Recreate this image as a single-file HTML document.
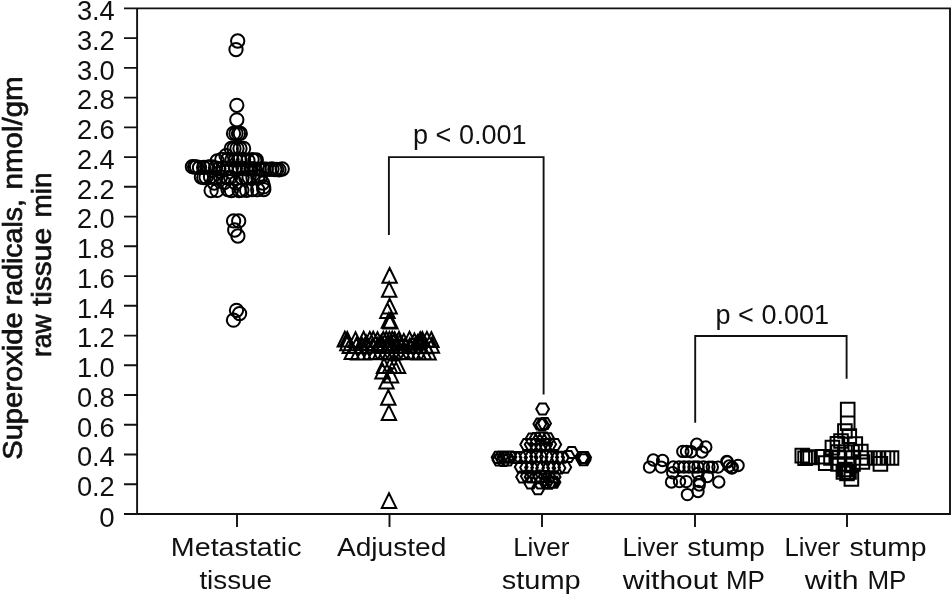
<!DOCTYPE html>
<html lang="en"><head><meta charset="utf-8"><title>Superoxide radicals</title>
<style>html,body{margin:0;padding:0;background:#fff}svg{display:block}text{font-family:"Liberation Sans",sans-serif;fill:#111}.m{fill:none;stroke:#000;stroke-width:1.8}.ax{fill:none;stroke:#111;stroke-width:1.9}</style></head><body>
<svg width="951" height="596" viewBox="0 0 951 596">
<rect width="951" height="596" fill="#fff"/>
<path class="ax" d="M124.0 8.4H950V514.0H124.0M137.1 8.4V514.0"/>
<path class="ax" d="M124.0 484.3H137.1M124.0 454.5H137.1M124.0 424.8H137.1M124.0 395.0H137.1M124.0 365.3H137.1M124.0 335.6H137.1M124.0 305.8H137.1M124.0 276.1H137.1M124.0 246.3H137.1M124.0 216.6H137.1M124.0 186.8H137.1M124.0 157.1H137.1M124.0 127.4H137.1M124.0 97.6H137.1M124.0 67.9H137.1M124.0 38.1H137.1"/>
<path class="ax" d="M237 514.0V526.9M389.5 514.0V526.9M542 514.0V526.9M695 514.0V526.9M847 514.0V526.9"/>
<text x="114.6" y="527.2" font-size="28" text-anchor="end" textLength="15.4" lengthAdjust="spacingAndGlyphs">0</text>
<text x="114.8" y="496.1" font-size="28" text-anchor="end" textLength="37.9" lengthAdjust="spacingAndGlyphs">0.2</text>
<text x="114.8" y="466.3" font-size="28" text-anchor="end" textLength="37.9" lengthAdjust="spacingAndGlyphs">0.4</text>
<text x="114.8" y="436.6" font-size="28" text-anchor="end" textLength="37.9" lengthAdjust="spacingAndGlyphs">0.6</text>
<text x="114.8" y="406.8" font-size="28" text-anchor="end" textLength="37.9" lengthAdjust="spacingAndGlyphs">0.8</text>
<text x="114.8" y="377.1" font-size="28" text-anchor="end" textLength="37.9" lengthAdjust="spacingAndGlyphs">1.0</text>
<text x="114.8" y="347.4" font-size="28" text-anchor="end" textLength="37.9" lengthAdjust="spacingAndGlyphs">1.2</text>
<text x="114.8" y="317.6" font-size="28" text-anchor="end" textLength="37.9" lengthAdjust="spacingAndGlyphs">1.4</text>
<text x="114.8" y="287.9" font-size="28" text-anchor="end" textLength="37.9" lengthAdjust="spacingAndGlyphs">1.6</text>
<text x="114.8" y="258.1" font-size="28" text-anchor="end" textLength="37.9" lengthAdjust="spacingAndGlyphs">1.8</text>
<text x="114.8" y="228.4" font-size="28" text-anchor="end" textLength="37.9" lengthAdjust="spacingAndGlyphs">2.0</text>
<text x="114.8" y="198.6" font-size="28" text-anchor="end" textLength="37.9" lengthAdjust="spacingAndGlyphs">2.2</text>
<text x="114.8" y="168.9" font-size="28" text-anchor="end" textLength="37.9" lengthAdjust="spacingAndGlyphs">2.4</text>
<text x="114.8" y="139.2" font-size="28" text-anchor="end" textLength="37.9" lengthAdjust="spacingAndGlyphs">2.6</text>
<text x="114.8" y="109.4" font-size="28" text-anchor="end" textLength="37.9" lengthAdjust="spacingAndGlyphs">2.8</text>
<text x="114.8" y="79.7" font-size="28" text-anchor="end" textLength="37.9" lengthAdjust="spacingAndGlyphs">3.0</text>
<text x="114.8" y="49.9" font-size="28" text-anchor="end" textLength="37.9" lengthAdjust="spacingAndGlyphs">3.2</text>
<text x="114.8" y="19.7" font-size="28" text-anchor="end" textLength="37.9" lengthAdjust="spacingAndGlyphs">3.4</text>
<text x="170.8" y="555.7" font-size="26" textLength="130.7" lengthAdjust="spacingAndGlyphs">Metastatic</text>
<text x="199.4" y="589" font-size="26" textLength="72.6" lengthAdjust="spacingAndGlyphs">tissue</text>
<text x="337.0" y="555.7" font-size="26" textLength="109.3" lengthAdjust="spacingAndGlyphs">Adjusted</text>
<text x="513.2" y="555.7" font-size="26" textLength="56.2" lengthAdjust="spacingAndGlyphs">Liver</text>
<text x="501.8" y="589" font-size="26" textLength="78.9" lengthAdjust="spacingAndGlyphs">stump</text>
<text x="622.5" y="555.7" font-size="26" textLength="55.8" lengthAdjust="spacingAndGlyphs">Liver</text>
<text x="687.2" y="555.7" font-size="26" textLength="77.7" lengthAdjust="spacingAndGlyphs">stump</text>
<text x="622.8" y="589" font-size="26" textLength="95.0" lengthAdjust="spacingAndGlyphs">without</text>
<text x="725.9" y="589" font-size="26" textLength="39.0" lengthAdjust="spacingAndGlyphs">MP</text>
<text x="784.5" y="555.7" font-size="26" textLength="55.5" lengthAdjust="spacingAndGlyphs">Liver</text>
<text x="849.4" y="555.7" font-size="26" textLength="77.2" lengthAdjust="spacingAndGlyphs">stump</text>
<text x="804.7" y="589" font-size="26" textLength="53.8" lengthAdjust="spacingAndGlyphs">with</text>
<text x="867.4" y="589" font-size="26" textLength="39.0" lengthAdjust="spacingAndGlyphs">MP</text>
<text transform="translate(21.5 459.8) rotate(-90)" font-size="27" stroke="#111" stroke-width="0.7" textLength="147.4" lengthAdjust="spacingAndGlyphs">Superoxide</text>
<text transform="translate(21.5 305.2) rotate(-90)" font-size="27" stroke="#111" stroke-width="0.7" textLength="106.2" lengthAdjust="spacingAndGlyphs">radicals,</text>
<text transform="translate(21.5 189.5) rotate(-90)" font-size="27" stroke="#111" stroke-width="0.7" textLength="113.1" lengthAdjust="spacingAndGlyphs">nmol/gm</text>
<text transform="translate(50.6 356.9) rotate(-90)" font-size="27" stroke="#111" stroke-width="0.7" textLength="42.3" lengthAdjust="spacingAndGlyphs">raw</text>
<text transform="translate(50.6 306.0) rotate(-90)" font-size="27" stroke="#111" stroke-width="0.7" textLength="78.0" lengthAdjust="spacingAndGlyphs">tissue</text>
<text transform="translate(50.6 217.6) rotate(-90)" font-size="27" stroke="#111" stroke-width="0.7" textLength="45.1" lengthAdjust="spacingAndGlyphs">min</text>
<text x="413" y="143.5" font-size="27" textLength="113.6" lengthAdjust="spacingAndGlyphs">p &lt; 0.001</text>
<text x="715.5" y="323.7" font-size="27" textLength="113.6" lengthAdjust="spacingAndGlyphs">p &lt; 0.001</text>
<path class="ax" d="M388.9 235.1V157.1H543.6V394.4"/>
<path class="ax" d="M695.2 422.8V336H846.6V378.8"/>
<g class="m" style="stroke-width:2.0"><circle cx="237.7" cy="41.0" r="6.65"/><circle cx="236.0" cy="49.6" r="6.65"/><circle cx="236.8" cy="105.3" r="6.65"/><circle cx="236.8" cy="119.8" r="6.65"/><circle cx="233.5" cy="133.4" r="6.65"/><circle cx="236.0" cy="133.4" r="6.65"/><circle cx="238.5" cy="133.4" r="6.65"/><circle cx="240.3" cy="133.4" r="6.65"/><circle cx="231.3" cy="148.5" r="6.65"/><circle cx="234.0" cy="148.5" r="6.65"/><circle cx="237.0" cy="148.5" r="6.65"/><circle cx="240.0" cy="148.5" r="6.65"/><circle cx="243.6" cy="148.5" r="6.65"/><circle cx="226.0" cy="155.6" r="6.65"/><circle cx="217.2" cy="160.9" r="6.65"/><circle cx="221.8" cy="159.5" r="6.65"/><circle cx="227.7" cy="159.4" r="6.65"/><circle cx="232.0" cy="159.8" r="6.65"/><circle cx="235.6" cy="160.0" r="6.65"/><circle cx="239.5" cy="159.9" r="6.65"/><circle cx="243.6" cy="159.4" r="6.65"/><circle cx="247.9" cy="160.5" r="6.65"/><circle cx="252.1" cy="159.6" r="6.65"/><circle cx="254.8" cy="160.6" r="6.65"/><circle cx="256.3" cy="159.9" r="6.65"/><circle cx="192.4" cy="166.7" r="6.65"/><circle cx="194.6" cy="167.0" r="6.65"/><circle cx="196.5" cy="166.8" r="6.65"/><circle cx="199.5" cy="167.7" r="6.65"/><circle cx="203.6" cy="167.4" r="6.65"/><circle cx="207.7" cy="167.1" r="6.65"/><circle cx="210.8" cy="166.7" r="6.65"/><circle cx="262.6" cy="168.9" r="6.65"/><circle cx="266.2" cy="169.2" r="6.65"/><circle cx="269.5" cy="169.4" r="6.65"/><circle cx="272.0" cy="169.0" r="6.65"/><circle cx="274.8" cy="169.6" r="6.65"/><circle cx="276.7" cy="169.4" r="6.65"/><circle cx="279.0" cy="169.8" r="6.65"/><circle cx="282.2" cy="169.0" r="6.65"/><circle cx="215.5" cy="168.0" r="6.65"/><circle cx="218.9" cy="168.9" r="6.65"/><circle cx="222.7" cy="168.5" r="6.65"/><circle cx="226.5" cy="168.7" r="6.65"/><circle cx="231.3" cy="168.6" r="6.65"/><circle cx="235.4" cy="168.2" r="6.65"/><circle cx="239.2" cy="168.6" r="6.65"/><circle cx="243.1" cy="168.4" r="6.65"/><circle cx="247.3" cy="169.1" r="6.65"/><circle cx="251.0" cy="168.7" r="6.65"/><circle cx="254.6" cy="168.8" r="6.65"/><circle cx="259.1" cy="169.2" r="6.65"/><circle cx="201.4" cy="177.0" r="6.65"/><circle cx="203.8" cy="177.5" r="6.65"/><circle cx="206.1" cy="177.2" r="6.65"/><circle cx="210.5" cy="176.8" r="6.65"/><circle cx="215.6" cy="177.7" r="6.65"/><circle cx="220.6" cy="176.9" r="6.65"/><circle cx="227.7" cy="177.8" r="6.65"/><circle cx="230.6" cy="177.2" r="6.65"/><circle cx="242.1" cy="177.8" r="6.65"/><circle cx="245.8" cy="177.8" r="6.65"/><circle cx="249.1" cy="177.2" r="6.65"/><circle cx="253.0" cy="177.8" r="6.65"/><circle cx="257.8" cy="176.8" r="6.65"/><circle cx="260.3" cy="176.9" r="6.65"/><circle cx="214.3" cy="183.0" r="6.65"/><circle cx="224.1" cy="182.7" r="6.65"/><circle cx="235.5" cy="182.9" r="6.65"/><circle cx="262.7" cy="183.1" r="6.65"/><circle cx="211.1" cy="190.5" r="6.65"/><circle cx="217.0" cy="190.4" r="6.65"/><circle cx="228.0" cy="189.6" r="6.65"/><circle cx="231.4" cy="190.6" r="6.65"/><circle cx="239.2" cy="190.6" r="6.65"/><circle cx="241.9" cy="190.1" r="6.65"/><circle cx="246.6" cy="190.4" r="6.65"/><circle cx="252.1" cy="189.6" r="6.65"/><circle cx="257.7" cy="189.7" r="6.65"/><circle cx="263.8" cy="189.6" r="6.65"/><circle cx="263.6" cy="186.9" r="6.65"/><circle cx="233.6" cy="220.9" r="6.65"/><circle cx="238.7" cy="220.9" r="6.65"/><circle cx="234.7" cy="230.0" r="6.65"/><circle cx="237.9" cy="236.0" r="6.65"/><circle cx="236.5" cy="310.3" r="6.65"/><circle cx="239.6" cy="313.6" r="6.65"/><circle cx="233.5" cy="320.2" r="6.65"/></g>
<path class="m" style="stroke-width:2.0" d="M389.6 268.0L396.8 282.7H382.4ZM389.2 282.1L396.4 296.8H382.0ZM389.6 298.7L396.8 313.4H382.4ZM387.4 303.2L394.6 317.9H380.2ZM390.4 313.8L397.6 328.5H383.2ZM388.9 313.0L396.1 327.7H381.7ZM344.8 331.8L352.0 346.5H337.6ZM347.2 331.9L354.4 346.6H340.0ZM355.5 332.2L362.7 346.9H348.3ZM363.6 331.8L370.8 346.5H356.4ZM369.8 331.9L377.0 346.6H362.6ZM373.2 331.8L380.4 346.5H366.0ZM377.5 332.3L384.7 347.0H370.3ZM383.3 332.0L390.5 346.7H376.1ZM386.3 331.8L393.5 346.5H379.1ZM389.4 331.9L396.6 346.6H382.2ZM392.2 331.8L399.4 346.5H385.0ZM394.7 332.3L401.9 347.0H387.5ZM399.0 331.8L406.2 346.5H391.8ZM409.5 331.7L416.7 346.4H402.3ZM420.2 332.3L427.4 347.0H413.0ZM422.4 332.1L429.6 346.8H415.2ZM426.9 331.9L434.1 346.6H419.7ZM431.4 332.2L438.6 346.9H424.2ZM403.8 333.9L411.0 348.6H396.6ZM414.4 333.5L421.6 348.2H407.2ZM347.4 335.5L354.6 350.2H340.2ZM366.2 335.4L373.4 350.1H359.0ZM381.2 335.3L388.4 350.0H374.0ZM390.8 335.2L398.0 349.9H383.6ZM399.9 334.9L407.1 349.6H392.7ZM417.7 335.1L424.9 349.8H410.5ZM349.8 338.3L357.0 353.0H342.6ZM356.3 338.2L363.5 352.9H349.1ZM362.3 338.5L369.5 353.2H355.1ZM367.8 338.1L375.0 352.8H360.6ZM372.8 338.0L380.0 352.7H365.6ZM377.8 338.0L385.0 352.7H370.6ZM382.6 338.4L389.8 353.1H375.4ZM387.2 338.2L394.4 352.9H380.0ZM391.6 338.4L398.8 353.1H384.4ZM395.8 338.3L403.0 353.0H388.6ZM400.7 338.4L407.9 353.1H393.5ZM405.2 338.2L412.4 352.9H398.0ZM409.8 338.4L417.0 353.1H402.6ZM414.9 338.4L422.1 353.1H407.7ZM420.8 338.1L428.0 352.8H413.6ZM425.9 338.5L433.1 353.2H418.7ZM431.9 338.0L439.1 352.7H424.7ZM351.8 344.3L359.0 359.0H344.6ZM358.2 344.7L365.4 359.4H351.0ZM363.8 344.7L371.0 359.4H356.6ZM370.3 344.6L377.5 359.3H363.1ZM375.4 344.5L382.6 359.2H368.2ZM380.3 344.2L387.5 358.9H373.1ZM385.3 344.6L392.5 359.3H378.1ZM389.5 344.8L396.7 359.5H382.3ZM394.0 344.7L401.2 359.4H386.8ZM398.7 344.3L405.9 359.0H391.5ZM402.9 344.4L410.1 359.1H395.7ZM407.8 344.6L415.0 359.3H400.6ZM413.4 344.5L420.6 359.2H406.2ZM418.8 344.7L426.0 359.4H411.6ZM423.9 344.5L431.1 359.2H416.7ZM428.6 344.7L435.8 359.4H421.4ZM384.0 358.2L391.2 372.9H376.8ZM390.0 358.2L397.2 372.9H382.8ZM394.0 358.2L401.2 372.9H386.8ZM398.0 358.2L405.2 372.9H390.8ZM382.5 363.7L389.7 378.4H375.3ZM391.0 367.7L398.2 382.4H383.8ZM386.5 373.7L393.7 388.4H379.3ZM388.3 390.0L395.5 404.7H381.1ZM388.9 405.4L396.1 420.1H381.7ZM389.0 493.2L396.2 507.9H381.8Z"/>
<path class="m" style="stroke-width:2.0" d="M536.2 408.9L539.4 403.4H545.8L549.0 408.9L545.8 414.4H539.4ZM533.4 424.0L536.6 418.5H543.0L546.2 424.0L543.0 429.5H536.6ZM535.8 424.7L539.0 419.2H545.4L548.6 424.7L545.4 430.2H539.0ZM538.2 423.6L541.4 418.1H547.8L551.0 423.6L547.8 429.1H541.4ZM525.5 439.0L528.7 433.5H535.1L538.3 439.0L535.1 444.5H528.7ZM529.6 438.5L532.8 433.0H539.2L542.4 438.5L539.2 444.1H532.8ZM533.6 437.9L536.8 432.4H543.2L546.4 437.9L543.2 443.5H536.8ZM537.5 438.1L540.7 432.6H547.1L550.3 438.1L547.1 443.7H540.7ZM541.6 438.9L544.8 433.3H551.2L554.4 438.9L551.2 444.4H544.8ZM520.3 444.5L523.5 438.9H529.9L533.1 444.5L529.9 450.0H523.5ZM524.8 444.6L528.0 439.0H534.4L537.6 444.6L534.4 450.1H528.0ZM529.4 444.5L532.6 439.0H539.0L542.2 444.5L539.0 450.1H532.6ZM534.7 444.8L537.9 439.3H544.3L547.5 444.8L544.3 450.4H537.9ZM539.2 444.6L542.4 439.0H548.8L552.0 444.6L548.8 450.1H542.4ZM543.3 444.2L546.5 438.7H552.9L556.1 444.2L552.9 449.8H546.5ZM548.4 444.5L551.6 439.0H558.0L561.2 444.5L558.0 450.1H551.6ZM491.7 457.3L494.9 451.8H501.3L504.5 457.3L501.3 462.9H494.9ZM495.0 456.9L498.2 451.4H504.6L507.8 456.9L504.6 462.5H498.2ZM497.7 457.0L500.9 451.5H507.3L510.5 457.0L507.3 462.5H500.9ZM500.6 457.2L503.8 451.7H510.2L513.4 457.2L510.2 462.8H503.8ZM503.6 457.0L506.8 451.5H513.2L516.4 457.0L513.2 462.6H506.8ZM508.6 457.5L511.8 452.0H518.2L521.4 457.5L518.2 463.1H511.8ZM514.1 457.5L517.3 451.9H523.7L526.9 457.5L523.7 463.0H517.3ZM519.6 456.7L522.8 451.2H529.2L532.4 456.7L529.2 462.3H522.8ZM524.6 457.5L527.8 452.0H534.2L537.4 457.5L534.2 463.1H527.8ZM530.1 456.6L533.3 451.0H539.7L542.9 456.6L539.7 462.1H533.3ZM534.7 456.9L537.9 451.4H544.3L547.5 456.9L544.3 462.5H537.9ZM540.0 456.7L543.2 451.1H549.6L552.8 456.7L549.6 462.2H543.2ZM545.3 457.2L548.5 451.7H554.9L558.1 457.2L554.9 462.7H548.5ZM551.3 457.5L554.5 451.9H560.9L564.1 457.5L560.9 463.0H554.5ZM556.0 457.3L559.2 451.7H565.6L568.8 457.3L565.6 462.8H559.2ZM561.8 456.6L565.0 451.0H571.4L574.6 456.6L571.4 462.1H565.0ZM575.6 457.6L578.8 452.0H585.2L588.4 457.6L585.2 463.1H578.8ZM578.3 457.5L581.5 452.0H587.9L591.1 457.5L587.9 463.1H581.5ZM492.5 460.0L495.7 454.4H502.1L505.3 460.0L502.1 465.5H495.7ZM497.1 460.4L500.3 454.9H506.7L509.9 460.4L506.7 465.9H500.3ZM501.3 459.9L504.5 454.4H510.9L514.1 459.9L510.9 465.5H504.5ZM576.6 459.8L579.8 454.3H586.2L589.4 459.8L586.2 465.3H579.8ZM577.8 459.8L581.0 454.2H587.4L590.6 459.8L587.4 465.3H581.0ZM514.8 467.1L518.0 461.6H524.4L527.6 467.1L524.4 472.7H518.0ZM520.2 467.6L523.4 462.1H529.8L533.0 467.6L529.8 473.2H523.4ZM525.1 467.5L528.3 462.0H534.7L537.9 467.5L534.7 473.0H528.3ZM531.2 467.7L534.4 462.2H540.8L544.0 467.7L540.8 473.3H534.4ZM536.2 468.3L539.4 462.7H545.8L549.0 468.3L545.8 473.8H539.4ZM542.4 468.3L545.6 462.7H552.0L555.2 468.3L552.0 473.8H545.6ZM547.2 467.4L550.4 461.9H556.8L560.0 467.4L556.8 473.0H550.4ZM552.6 468.0L555.8 462.5H562.2L565.4 468.0L562.2 473.6H555.8ZM558.4 467.3L561.6 461.7H568.0L571.2 467.3L568.0 472.8H561.6ZM516.2 477.0L519.4 471.5H525.8L529.0 477.0L525.8 482.5H519.4ZM520.9 476.2L524.1 470.7H530.5L533.7 476.2L530.5 481.8H524.1ZM524.7 477.0L527.9 471.5H534.3L537.5 477.0L534.3 482.5H527.9ZM529.7 476.7L532.9 471.2H539.3L542.5 476.7L539.3 482.3H532.9ZM533.7 476.0L536.9 470.4H543.3L546.5 476.0L543.3 481.5H536.9ZM538.8 476.4L542.0 470.9H548.4L551.6 476.4L548.4 482.0H542.0ZM542.7 477.0L545.9 471.5H552.3L555.5 477.0L552.3 482.6H545.9ZM547.7 476.9L550.9 471.3H557.3L560.5 476.9L557.3 482.4H550.9ZM524.2 483.0L527.4 477.5H533.8L537.0 483.0L533.8 488.6H527.4ZM534.2 483.0L537.4 477.5H543.8L547.0 483.0L543.8 488.6H537.4ZM539.6 482.4L542.8 476.9H549.2L552.4 482.4L549.2 487.9H542.8ZM542.7 483.1L545.9 477.6H552.3L555.5 483.1L552.3 488.7H545.9ZM545.4 482.2L548.6 476.6H555.0L558.2 482.2L555.0 487.7H548.6ZM547.6 482.3L550.8 476.7H557.2L560.4 482.3L557.2 487.8H550.8ZM565.3 452.5L568.5 447.0H574.9L578.1 452.5L574.9 458.0H568.5ZM531.6 488.8L534.8 483.3H541.2L544.4 488.8L541.2 494.3H534.8Z"/>
<g class="m" style="stroke-width:2.0"><circle cx="696.8" cy="444.3" r="5.7"/><circle cx="705.8" cy="447.0" r="5.7"/><circle cx="682.8" cy="451.4" r="5.7"/><circle cx="686.5" cy="451.4" r="5.7"/><circle cx="691.2" cy="451.8" r="5.7"/><circle cx="702.0" cy="452.0" r="5.7"/><circle cx="653.3" cy="460.0" r="5.7"/><circle cx="662.6" cy="460.5" r="5.7"/><circle cx="649.5" cy="467.1" r="5.7"/><circle cx="661.2" cy="467.1" r="5.7"/><circle cx="726.8" cy="461.4" r="5.7"/><circle cx="727.4" cy="462.0" r="5.7"/><circle cx="738.1" cy="465.5" r="5.7"/><circle cx="731.8" cy="468.0" r="5.7"/><circle cx="732.3" cy="467.5" r="5.7"/><circle cx="729.2" cy="466.0" r="5.7"/><circle cx="673.3" cy="467.0" r="5.7"/><circle cx="679.0" cy="467.0" r="5.7"/><circle cx="684.0" cy="467.0" r="5.7"/><circle cx="689.0" cy="467.0" r="5.7"/><circle cx="694.0" cy="467.0" r="5.7"/><circle cx="697.9" cy="467.0" r="5.7"/><circle cx="703.5" cy="467.0" r="5.7"/><circle cx="708.9" cy="467.1" r="5.7"/><circle cx="712.3" cy="467.1" r="5.7"/><circle cx="718.0" cy="467.1" r="5.7"/><circle cx="672.7" cy="472.8" r="5.7"/><circle cx="671.5" cy="482.0" r="5.7"/><circle cx="679.5" cy="481.6" r="5.7"/><circle cx="686.2" cy="481.6" r="5.7"/><circle cx="699.5" cy="481.6" r="5.7"/><circle cx="718.8" cy="482.0" r="5.7"/><circle cx="707.5" cy="476.5" r="5.7"/><circle cx="699.2" cy="485.0" r="5.7"/><circle cx="698.0" cy="491.5" r="5.7"/><circle cx="687.4" cy="494.6" r="5.7"/><circle cx="698.0" cy="473.5" r="5.7"/></g>
<path class="m" style="stroke-width:2.0" d="M840.9 402.8h13.6v13.6h-13.6ZM840.9 416.5h13.6v13.6h-13.6ZM838.1 424.2h13.6v13.6h-13.6ZM842.5 429.3h13.6v13.6h-13.6ZM830.6 437.0h13.6v13.6h-13.6ZM834.2 434.2h13.6v13.6h-13.6ZM825.6 440.8h13.6v13.6h-13.6ZM848.5 437.2h13.6v13.6h-13.6ZM854.0 444.8h13.6v13.6h-13.6ZM855.6 455.2h13.6v13.6h-13.6ZM795.5 448.8h13.6v13.6h-13.6ZM798.3 451.5h13.6v13.6h-13.6ZM801.0 450.2h13.6v13.6h-13.6ZM803.2 450.7h13.6v13.6h-13.6ZM815.9 449.9h13.6v13.6h-13.6ZM818.9 456.3h13.6v13.6h-13.6ZM836.6 465.1h13.6v13.6h-13.6ZM844.6 472.2h13.6v13.6h-13.6ZM840.2 466.7h13.6v13.6h-13.6ZM838.2 462.7h13.6v13.6h-13.6ZM842.2 465.2h13.6v13.6h-13.6ZM868.2 451.2h13.6v13.6h-13.6ZM871.7 451.2h13.6v13.6h-13.6ZM876.7 451.2h13.6v13.6h-13.6ZM880.7 451.2h13.6v13.6h-13.6ZM884.7 451.2h13.6v13.6h-13.6ZM873.6 457.1h13.6v13.6h-13.6ZM831.2 445.2h13.6v13.6h-13.6ZM838.2 445.2h13.6v13.6h-13.6ZM845.2 445.2h13.6v13.6h-13.6ZM824.2 451.2h13.6v13.6h-13.6ZM832.7 451.2h13.6v13.6h-13.6ZM846.2 451.2h13.6v13.6h-13.6ZM854.2 451.2h13.6v13.6h-13.6ZM860.2 451.2h13.6v13.6h-13.6ZM831.2 457.2h13.6v13.6h-13.6ZM846.2 457.2h13.6v13.6h-13.6Z"/>
</svg></body></html>
